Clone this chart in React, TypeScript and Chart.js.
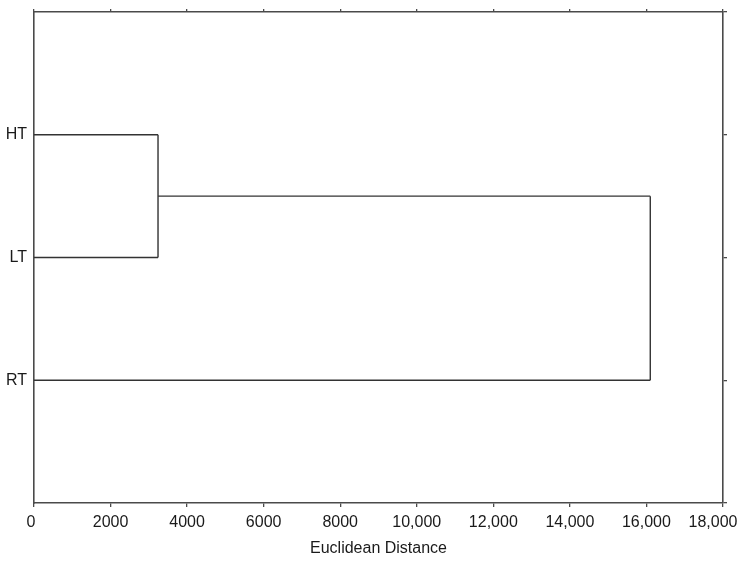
import React, { useEffect, useRef } from "react";
import { Chart, registerables } from "chart.js";

Chart.register(...registerables);

// Leaves (top to bottom) and merge heights
const leafLabels = ["HT", "LT", "RT"];
const mergeHT_LT = 3240; // distance at which HT and LT join
const mergeAll = 16100; // distance at which (HT,LT) joins RT
const xTicksMax = 18000;
const xTickStep = 2000;
const axisTitle = "Euclidean Distance";

const FONT = "'Liberation Sans', Arial, sans-serif";
const LINE = "#333333";
const AXIS = "#4a4a4a";

function fmt(v: number): string {
  return v >= 10000 ? v.toLocaleString("en-US") : String(v);
}

function fix(size: { w?: number; h?: number }) {
  return (s: any) => {
    if (size.w !== undefined) s.width = size.w;
    if (size.h !== undefined) s.height = size.h;
    s.paddingLeft = 0;
    s.paddingRight = 0;
    s.paddingTop = 0;
    s.paddingBottom = 0;
  };
}

// nudges the outermost x tick labels inward so they stay inside the image
const edgeLabelNudge = {
  id: "edgeLabelNudge",
  beforeDraw(chart: any) {
    const sc = chart.scales.x;
    if (!sc || !sc.getLabelItems) return;
    const items = sc.getLabelItems();
    if (!items || !items.length || items._nudged) return;
    items[0].options.translation[0] -= 3;
    items[items.length - 1].options.translation[0] -= 10;
    items._nudged = true;
  },
};

export default function App() {
  const ref = useRef<HTMLCanvasElement | null>(null);

  useEffect(() => {
    document.body.style.margin = "0";
    const yHT = 1;
    const yLT = 2;
    const yRT = 3;
    const yMid = (yHT + yLT) / 2;
    const segs: { x: number; y: number }[][] = [
      [{ x: 0, y: yHT }, { x: mergeHT_LT, y: yHT }],
      [{ x: 0, y: yLT }, { x: mergeHT_LT, y: yLT }],
      [{ x: mergeHT_LT, y: yHT }, { x: mergeHT_LT, y: yLT }],
      [{ x: mergeHT_LT, y: yMid }, { x: mergeAll, y: yMid }],
      [{ x: 0, y: yRT }, { x: mergeAll, y: yRT }],
      [{ x: mergeAll, y: yMid }, { x: mergeAll, y: yRT }],
    ];
    const font = { family: FONT, size: 16 };
    const chart = new Chart(ref.current!, {
      type: "scatter",
      data: {
        datasets: segs.map((s) => ({
          data: s,
          showLine: true,
          borderColor: LINE,
          borderWidth: 1.4,
          pointRadius: 0,
          xAxisID: "x",
          yAxisID: "y",
        })),
      },
      plugins: [edgeLabelNudge],
      options: {
        animation: false,
        responsive: true,
        maintainAspectRatio: false,
        layout: { padding: 0 },
        plugins: { legend: { display: false }, tooltip: { enabled: false } },
        scales: {
          x: {
            type: "linear",
            position: "bottom",
            min: 0,
            max: xTicksMax,
            ticks: {
              stepSize: xTickStep,
              callback: (v: any) => fmt(Number(v)),
              font,
              color: "#1a1a1a",
              padding: 6,
              maxRotation: 0,
              autoSkip: false,
            },
            grid: { drawOnChartArea: false, drawTicks: true, tickLength: 4, color: AXIS, lineWidth: 1.3 },
            border: { display: true, color: AXIS, width: 1.6 },
            title: { display: true, text: axisTitle, font, color: "#1a1a1a", padding: { top: 0, bottom: 4 } },
            afterFit: fix({ h: 59 }),
          },
          xTop: {
            type: "linear",
            position: "top",
            min: 0,
            max: xTicksMax,
            ticks: { stepSize: xTickStep, display: false },
            grid: { drawOnChartArea: false, drawTicks: true, tickLength: 3, color: AXIS, lineWidth: 1.3 },
            border: { display: true, color: AXIS, width: 1.6 },
            afterFit: fix({ h: 12 }),
          },
          y: {
            type: "linear",
            position: "left",
            reverse: true,
            min: 0,
            max: leafLabels.length + 1,
            ticks: {
              stepSize: 1,
              callback: (v: any) => leafLabels[Number(v) - 1] ?? "",
              font,
              color: "#1a1a1a",
              padding: 7,
            },
            grid: { drawOnChartArea: false, drawTicks: false },
            border: { display: true, color: AXIS, width: 1.6 },
            afterFit: fix({ w: 34 }),
          },
          yRight: {
            type: "linear",
            position: "right",
            reverse: true,
            min: 0,
            max: leafLabels.length + 1,
            ticks: { stepSize: 1, display: false },
            grid: { drawOnChartArea: false, drawTicks: true, tickLength: 4, color: AXIS, lineWidth: 1.3 },
            border: { display: true, color: AXIS, width: 1.6 },
            afterFit: fix({ w: 21 }),
          },
        },
      } as any,
    });
    return () => chart.destroy();
  }, []);

  return (
    <div style={{ position: "relative", width: 744, height: 562 }}>
      <canvas ref={ref} />
    </div>
  );
}
